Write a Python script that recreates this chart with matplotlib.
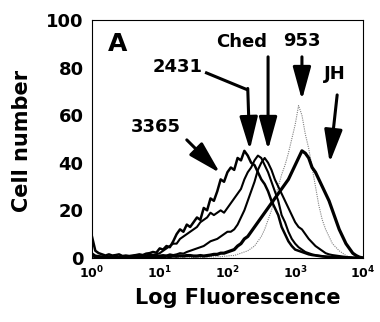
import numpy as np
import matplotlib
matplotlib.use('Agg')
import matplotlib.pyplot as plt

plt.rcParams['font.family'] = ['DejaVu Sans']
plt.rcParams['font.weight'] = 'bold'
plt.rcParams['mathtext.fontset'] = 'custom'
plt.rcParams['mathtext.rm'] = 'DejaVu Sans:bold'
plt.rcParams['mathtext.bf'] = 'DejaVu Sans:bold'
plt.rcParams['mathtext.it'] = 'DejaVu Sans:bold'

# histogram channels, log10 of fluorescence (0.05 decade bins)
log_fluor = np.arange(81) * 0.05

# cell counts, one list per strain
s3365 = [9, 3, 2, 1.5, 1, 1.5, 1, 1.2, 1.5, 0.8,
         1, 0.8, 1, 1.2, 1.5, 1.2, 1.8, 2, 2.5, 2.2,
         4, 3.5, 5, 4.5, 7, 10, 12, 11, 14, 13,
         15, 17, 16, 21, 20, 25, 24, 28, 33, 32,
         36, 38, 37, 42, 41, 45, 43, 40, 39, 36,
         33, 31, 28, 24, 21, 18, 13, 10, 7, 5,
         3.5, 3, 2.5, 2, 1.5, 1.2, 1, 0.8, 0.6, 0.5,
         0.4, 0.3, 0.3, 0.2, 0.2, 0.1, 0.1, 0, 0, 0,
         0]
s2431 = [2, 1, 0.8, 0.5, 0.8, 0.5, 0.6, 0.4, 0.5, 0.8,
         0.6, 0.5, 0.8, 1, 0.8, 1.2, 1, 1.5, 1.2, 1.5,
         2, 3, 4, 5, 6, 6, 8, 9, 10, 11,
         12, 13, 15, 16, 17, 19, 18, 19, 20, 19,
         21, 23, 25, 27, 29, 33, 36, 38, 41, 43,
         42, 39, 36, 32, 28, 24, 18, 15, 11, 8,
         6, 4.5, 3.5, 2.5, 2, 1.5, 1.2, 1, 0.8, 0.6,
         0.5, 0.4, 0.3, 0.2, 0.2, 0.1, 0.1, 0, 0, 0,
         0]
ched = [1, 0.5, 0.3, 0.5, 0.3, 0.4, 0.3, 0.5, 0.3, 0.4,
        0.5, 0.3, 0.5, 0.6, 0.5, 0.8, 0.6, 0.8, 1, 0.8,
        1, 1.2, 1, 1.5, 1.2, 1.5, 2, 1.8, 2.5, 3,
        3.5, 4, 4.5, 5, 6, 7, 7.5, 8, 9, 10,
        11, 11, 12, 14, 17, 20, 24, 28, 32, 37,
        40, 42, 40, 37, 33, 30, 27, 24, 21, 18,
        15, 13, 12, 10, 8, 6.5, 5, 4, 3, 2,
        1.5, 1.2, 1, 0.8, 0.6, 0.4, 0.3, 0.2, 0.1, 0,
        0]
s953 = [0.5, 0.3, 0, 0.2, 0, 0.3, 0, 0, 0.2, 0,
        0, 0.2, 0, 0, 0.3, 0, 0, 0.2, 0, 0,
        0.2, 0, 0, 0.3, 0, 0.2, 0, 0, 0.3, 0.2,
        0.2, 0.3, 0.2, 0.4, 0.3, 0.5, 0.4, 0.6, 0.5, 0.7,
        0.8, 1, 1, 1.5, 2, 2.5, 3, 4, 5, 7,
        9, 12, 16, 20, 25, 30, 35, 39, 44, 50,
        56, 64, 60, 52, 46, 38, 30, 22, 16, 12,
        9, 6, 4.5, 3, 2, 1, 0.5, 0.2, 0.1, 0,
        0]
jh = [1, 0.5, 0.4, 0.3, 0.5, 0.3, 0.4, 0.2, 0.3, 0.4,
      0.3, 0.4, 0.3, 0.5, 0.4, 0.3, 0.5, 0.4, 0.6, 0.5,
      0.6, 0.5, 0.7, 0.6, 0.8, 0.7, 0.9, 0.8, 1, 1,
      0.8, 0.8, 1, 0.8, 1, 1.2, 1.5, 1.5, 2, 2,
      2.5, 3, 3.5, 5, 6, 8, 9, 11, 13, 15,
      17, 19, 21, 23, 25, 27, 29, 31, 33, 36,
      39, 42, 45, 44, 42, 38, 36, 33, 30, 27,
      24, 20, 16, 12, 9, 6, 4, 2, 1, 0.3,
      0]

x = 10 ** log_fluor

fig = plt.figure(figsize=(3.8, 3.22), dpi=100)
ax = fig.add_axes([0.242, 0.199, 0.713, 0.739])

ax.plot(x, s953, color='0.5', lw=0.8, ls=(0, (1, 1)))
ax.plot(x, s3365, color='black', lw=1.8)
ax.plot(x, s2431, color='black', lw=1.5)
ax.plot(x, ched, color='black', lw=1.5)
ax.plot(x, jh, color='black', lw=2.3)

ax.set_xscale('log')
ax.set_xlim(1, 1e4)
ax.set_ylim(0, 100)
ax.set_xticks([1, 10, 100, 1000, 10000])
ax.set_xticklabels([r'$\mathbf{10^{%d}}$' % k for k in range(5)], fontsize=9)
ax.minorticks_off()
ax.set_yticks([0, 20, 40, 60, 80, 100])
ax.set_yticklabels(['0', '20', '40', '60', '80', '100'], fontsize=13, fontweight='bold')
ax.tick_params(length=0, pad=6)
ax.tick_params(axis='x', pad=5)
for sp in ax.spines.values():
    sp.set_linewidth(0.8)

ax.set_xlabel('Log Fluorescence', fontsize=15, fontweight='bold')
ax.set_ylabel('Cell number', fontsize=15, fontweight='bold')
ax.xaxis.set_label_coords(0.537, -0.125)
ax.yaxis.set_label_coords(-0.22, 0.49)

# labels
ax.text(2.42, 89.9, 'A', fontsize=18, fontweight='bold', ha='center', va='center')
ax.text(164, 90.8, 'Ched', fontsize=13, fontweight='bold', ha='center', va='center')
ax.text(1259, 91.2, '953', fontsize=13, fontweight='bold', ha='center', va='center')
ax.text(18.6, 80.3, '2431', fontsize=13, fontweight='bold', ha='center', va='center')
ax.text(3864, 77.3, 'JH', fontsize=13, fontweight='bold', ha='center', va='center')
ax.text(8.8, 55, '3365', fontsize=13, fontweight='bold', ha='center', va='center')

arrow = dict(arrowstyle='-|>,head_length=2.0,head_width=0.55', lw=2.2,
             color='black', mutation_scale=10, shrinkA=0, shrinkB=0)
ax.annotate('', xy=(398, 45.4), xytext=(398, 84.5), arrowprops=arrow)
ax.annotate('', xy=(1259, 66.4), xytext=(1259, 84.5), arrowprops=arrow)
ax.annotate('', xy=(10 ** 3.51, 40), xytext=(10 ** 3.62, 68.5), arrowprops=arrow)
ax.annotate('', xy=(10 ** 1.89, 35.7), xytext=(10 ** 1.40, 49.6), arrowprops=arrow)
ax.plot([10 ** 1.67, 10 ** 2.30], [78, 70.6], color='black', lw=2.2, solid_capstyle='butt')
ax.annotate('', xy=(10 ** 2.33, 45.4), xytext=(10 ** 2.30, 71.2), arrowprops=arrow)

fig.savefig('out.png', dpi=100)
